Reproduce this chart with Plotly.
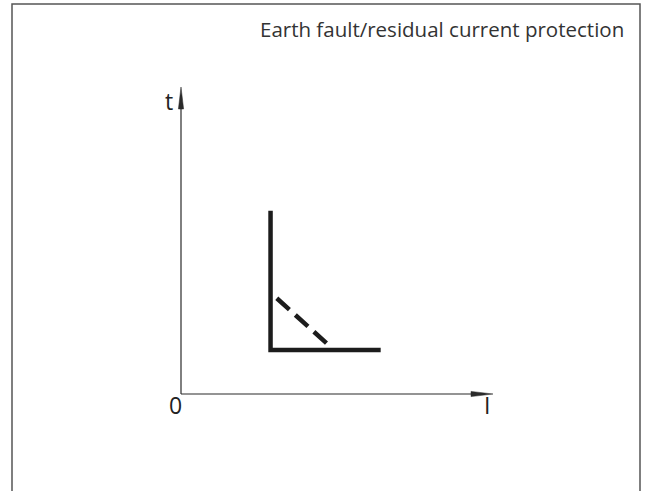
import plotly.graph_objects as go

# ---- data ----
title_text = "Earth fault/residual current protection"
x_label = "I"
y_label = "t"
origin_label = "0"
axis_max_I = 10.0
axis_max_t = 10.0
# characteristic: definite-time earth fault (solid) and inverse part (dashed)
solid_I = [2.87, 2.87, 6.40]
solid_t = [5.97, 1.43, 1.43]
dash_I = [3.07, 4.67]
dash_t = [3.12, 1.65]

# ---- layout geometry (pixels, window coordinates) ----
W, H = 648, 491
ML, MR, MT, MB = 150, 124, 57, 66
X0PX, XTIPPX = 181, 493
Y0PX, YTIPPX = 394, 87
sx = (XTIPPX - X0PX) / axis_max_I
sy = (Y0PX - YTIPPX) / axis_max_t
x_range = [-(X0PX - ML) / sx, axis_max_I + (W - MR - XTIPPX) / sx]
y_range = [-(H - MB - Y0PX) / sy, axis_max_t + (YTIPPX - MT) / sy]
PW, PH = W - ML - MR, H - MT - MB


def pxx(x):
    return (x - ML) / PW


def pxy(y):
    return (H - MB - y) / PH


INK = "#1c1c1c"
AX = "#2a2a2a"
FONT = "Open Sans"

fig = go.Figure()
fig.add_trace(go.Scatter(x=solid_I, y=solid_t, mode="lines",
                         line=dict(color=INK, width=4.5), hoverinfo="skip"))
fig.add_trace(go.Scatter(x=dash_I, y=dash_t, mode="lines",
                         line=dict(color=INK, width=4.5, dash="17px,8px"),
                         hoverinfo="skip"))

head_len, head_hw = 22, 2.6
hx_len, hx_hw = head_len / sx, head_hw / sy
hy_len, hy_hw = head_len / sy, head_hw / sx

shapes = [
    # axes lines
    dict(type="line", xref="x", yref="y", x0=0, y0=0, x1=axis_max_I - hx_len, y1=0,
         line=dict(color=AX, width=1.2)),
    dict(type="line", xref="x", yref="y", x0=0, y0=0, x1=0, y1=axis_max_t - hy_len,
         line=dict(color=AX, width=1.2)),
    # arrow heads
    dict(type="path", xref="x", yref="y",
         path=f"M {axis_max_I - hx_len},{-hx_hw} L {axis_max_I},0 L {axis_max_I - hx_len},{hx_hw} Z",
         fillcolor=AX, line=dict(color=AX, width=0.5)),
    dict(type="path", xref="x", yref="y",
         path=f"M {-hy_hw},{axis_max_t - hy_len} L 0,{axis_max_t} L {hy_hw},{axis_max_t - hy_len} Z",
         fillcolor=AX, line=dict(color=AX, width=0.5)),
    # frame
    dict(type="rect", xref="paper", yref="paper",
         x0=pxx(12), x1=pxx(640), y0=pxy(4), y1=pxy(520),
         line=dict(color="#555555", width=1.5), fillcolor="rgba(0,0,0,0)"),
]

annotations = [
    dict(text=title_text, xref="paper", yref="paper", x=pxx(626), y=pxy(29),
         xanchor="right", yanchor="middle", showarrow=False,
         font=dict(family=FONT, size=20.5, color="#333333")),
    dict(text=origin_label, xref="paper", yref="paper", x=pxx(175.5), y=pxy(405),
         xanchor="center", yanchor="middle", showarrow=False,
         font=dict(family=FONT, size=23, color="#222222")),
    dict(text=x_label, xref="paper", yref="paper", x=pxx(487), y=pxy(405),
         xanchor="center", yanchor="middle", showarrow=False,
         font=dict(family=FONT, size=23, color="#222222")),
    dict(text=y_label, xref="paper", yref="paper", x=pxx(168.5), y=pxy(101),
         xanchor="center", yanchor="middle", showarrow=False,
         font=dict(family=FONT, size=23, color="#222222")),
]

fig.update_layout(
    width=W, height=H,
    margin=dict(l=ML, r=MR, t=MT, b=MB, pad=0),
    paper_bgcolor="white", plot_bgcolor="white",
    showlegend=False,
    xaxis=dict(range=x_range, visible=False, fixedrange=True),
    yaxis=dict(range=y_range, visible=False, fixedrange=True),
    shapes=shapes,
    annotations=annotations,
)

fig.write_html("out.html", config={"displayModeBar": False},
               post_script="document.body.style.margin='0';")
